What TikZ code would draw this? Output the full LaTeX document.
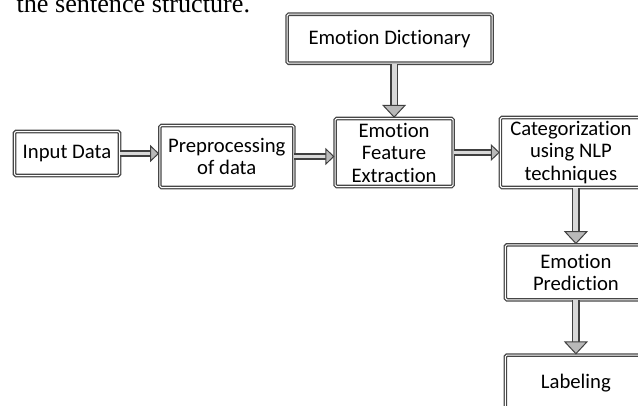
\documentclass[tikz,border=0pt]{standalone}
\usepackage{fontspec}
\setmainfont{Carlito}[Ligatures={NoCommon,NoDiscretionary,NoRare}]
\newfontfamily\serifpart{Liberation Serif}
\usetikzlibrary{positioning}
\usetikzlibrary{arrows.meta}

\begin{document}
\begin{tikzpicture}[>={Triangle[length=9pt,width=17pt,fill=gray!55,line width=1pt]}]
    \tikzset{block/.style= {draw=gray!55!black, line width=1.3pt, double=white, double distance=1pt, rounded corners=1.5pt, align=center, font=\fontsize{20.7}{22.5}\selectfont, inner sep=2pt},
             harr/.style= {draw=gray!50!black, line width=1.5pt, double=gray!30, double distance=3.5pt, ->},
             varr/.style= {draw=gray!50!black, line width=1.6pt, double=gray!30, double distance=5pt, -{Triangle[length=13pt,width=24pt,fill=gray!55,line width=1pt]}},}
    \useasboundingbox (0,0) rectangle (638pt,-405pt);

    \node [anchor=base west, font=\serifpart\fontsize{26.2}{28}\selectfont] (txt) at (13pt,-12pt) {the sentence structure.};

    \node [block, minimum width=105pt, minimum height=44pt] (in) at (67pt,-153.5pt) {Input Data};
    \node [block, minimum width=134pt, minimum height=62pt, right =39pt of in, yshift=-3pt] (pre) {Preprocessing\\of data};
    \node [block, minimum width=118pt, minimum height=68pt, right =40pt of pre, yshift=4pt] (efe) {Emotion\\Feature\\Extraction};
    \node [block, minimum width=141pt, minimum height=70pt, right =46pt of efe] (cat) {Categorization\\using NLP\\techniques};
    \node [block, minimum width=205pt, minimum height=49pt, above =54pt of efe, xshift=-4.5pt] (dict) {Emotion Dictionary};
    \node [block, minimum width=141pt, minimum height=55pt, below =56pt of cat, xshift=5pt] (pred) {Emotion\\Prediction};
    \node [block, minimum width=141pt, minimum height=56pt, below =54pt of pred] (lab) {Labeling};

    \draw[harr] (in.east) -- (in.east -| pre.west);
    \draw[harr] (pre.east) -- (pre.east -| efe.west);
    \draw[harr] (efe.east) -- (efe.east -| cat.west);
    \draw[varr] (dict.south -| efe.north) -- (efe.north);
    \draw[varr] (cat.south -| pred.north) -- (pred.north);
    \draw[varr] (pred) -- (lab);
\end{tikzpicture}
\end{document}
